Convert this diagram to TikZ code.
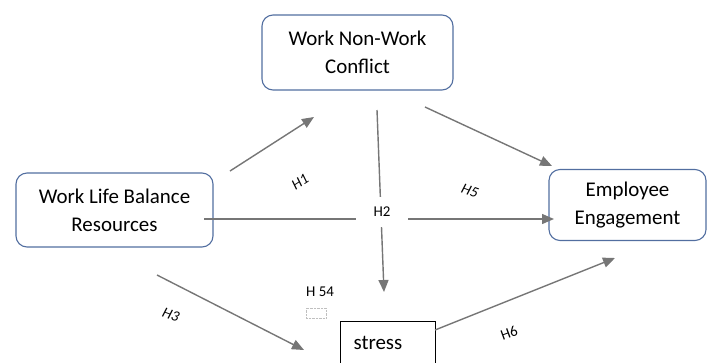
\documentclass[tikz,border=0pt]{standalone}
\usepackage{fontspec}
\setmainfont{Carlito}
\usepackage[dvipsnames]{xcolor}
\usetikzlibrary{shapes.geometric, arrows, arrows.meta, shapes}
\definecolor{boxblue}{RGB}{82,110,160}
\definecolor{arrowgrey}{RGB}{118,118,118}
\tikzstyle{construct} = [rectangle, rounded corners=11bp, text centered, align=center, draw=boxblue, line width=1.1bp, font=\fontsize{21}{28}\selectfont]
\tikzstyle{stressbox} = [rectangle, anchor=north west, minimum width=95bp, minimum height=42bp, text width=69bp, inner xsep=13bp, align=left, draw=black, line width=1.1bp, font=\fontsize{21}{27}\selectfont]
\tikzstyle{hyp} = [font=\fontsize{15}{18}\selectfont]
\tikzstyle{hypit} = [font=\fontsize{15}{18}\selectfont\itshape]
\tikzstyle{arrow} = [line width=1.4bp, draw=arrowgrey, ->, >={Triangle[length=12bp, width=10bp]}]

\begin{document}
\begin{tikzpicture}[x=1bp, y=1bp, yscale=-1]

\clip (0,0) rectangle (707,362);

\node at (357.5, 52.5) (wnwc) [construct, minimum width=191bp, minimum height=75bp] {Work Non-Work\\Conflict};
\node at (114.5, 210) (wlbr) [construct, minimum width=197bp, minimum height=74bp] {Work Life Balance\\Resources};
\node at (627.5, 205) (engage) [construct, minimum width=157bp, minimum height=71bp] {Employee\\Engagement};
\node at (340, 321) (stress) [stressbox] {stress};

% arrow ends
\coordinate (h1a) at (230,171);
\coordinate (h1b) at (314,117);
\coordinate (h2a) at (377,110);
\coordinate (h2b) at (384,292);
\coordinate (h5a) at (425,107);
\coordinate (h5b) at (552,166);
\coordinate (dira) at (204,219);
\coordinate (dirb) at (554,219);
\coordinate (h3a) at (157,275);
\coordinate (h3b) at (304,350);
\coordinate (h6a) at (435,330);
\coordinate (h6b) at (615,258);

\draw [arrow] (h1a) -- (h1b);
\draw [arrow] (h2a) -- (h2b);
\draw [arrow] (h5a) -- (h5b);
\draw [arrow] (dira) -- (dirb);
\draw [arrow] (h3a) -- (h3b);
\draw [arrow] (h6a) -- (h6b);

\node at (382, 212) (h2) [hyp, fill=white, minimum width=52bp, minimum height=30bp, inner sep=0pt] {H2};
\node at (300, 182) (h1) [hypit, rotate=33] {H1};
\node at (470, 191) (h5) [hypit, rotate=-20] {H5};
\node at (171, 315) (h3) [hypit, rotate=-20] {H3};
\node at (509, 333) (h6) [hyp, rotate=20] {H6};
\node at (320, 292) (h54) [hyp] {H 54};
\node at (316, 313) (mark) [draw=gray!50, densely dotted, minimum width=20bp, minimum height=10bp, inner sep=0pt] {};

\end{tikzpicture}
\end{document}
